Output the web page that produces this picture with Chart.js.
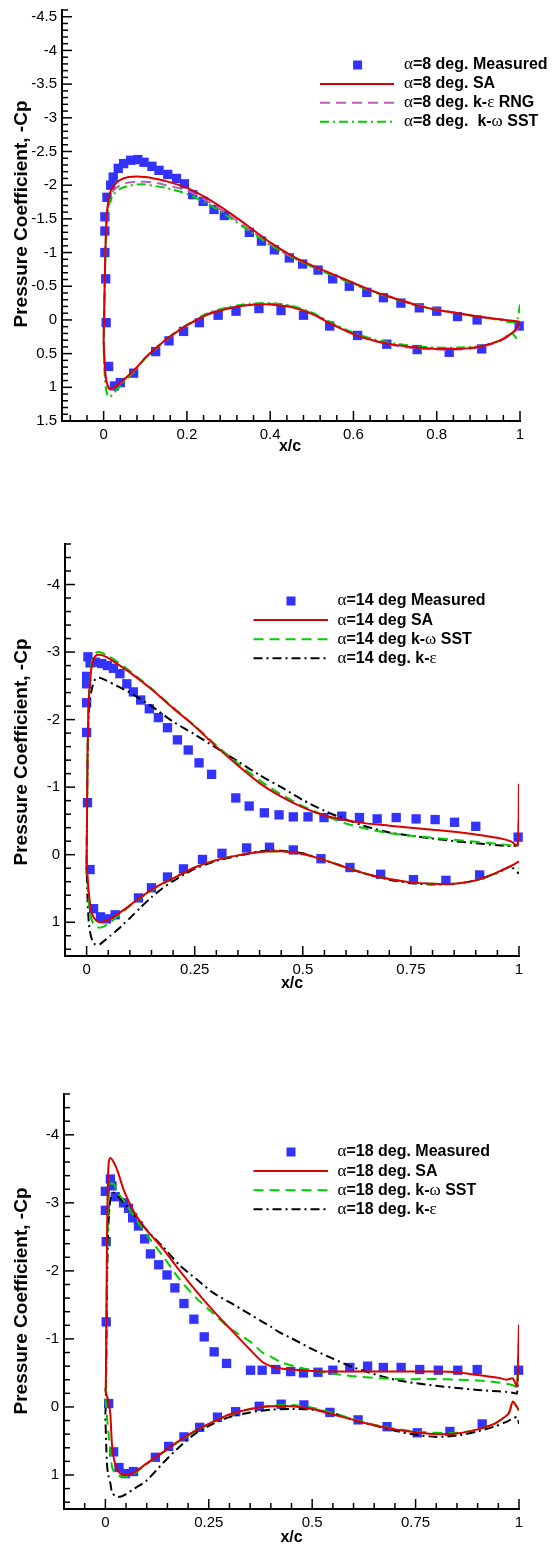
<!DOCTYPE html>
<html>
<head>
<meta charset="utf-8">
<title>Pressure coefficient, alpha = 8, 14, 18 deg</title>
<script src="https://cdn.jsdelivr.net/npm/chart.js@4.4.1/dist/chart.umd.min.js"></script>
<style>
  html, body { margin: 0; padding: 0; background: #fff; }
  #page { position: relative; width: 553px; height: 1546px; }
  canvas { position: absolute; left: 0; }
</style>
</head>
<body>
<div id="page">
  <canvas id="cp8" width="553" height="470" style="top:0px"></canvas>
  <canvas id="cp14" width="553" height="480" style="top:520px"></canvas>
  <canvas id="cp18" width="553" height="476" style="top:1070px"></canvas>
</div>
<script>
/* ---------- alpha = 8 deg ---------- */
const m8X  = [0.003, 0.003, 0.003, 0.005, 0.006, 0.008, 0.017, 0.023, 0.035, 0.048, 0.065, 0.082, 0.097, 0.116, 0.133, 0.154, 0.175, 0.194, 0.214, 0.239, 0.265, 0.29, 0.35, 0.379, 0.41, 0.446, 0.478, 0.515, 0.55, 0.59, 0.632, 0.672, 0.714, 0.758, 0.80, 0.85, 0.897, 0.998,
              0.012, 0.026, 0.04, 0.072, 0.125, 0.157, 0.192, 0.23, 0.275, 0.318, 0.373, 0.426, 0.48, 0.543, 0.61, 0.68, 0.753, 0.83, 0.908];
const m8Cp = [-1.32, -1.53, -1.00, -0.61, 0.04, -1.82, -2.00, -2.12, -2.25, -2.32, -2.37, -2.38, -2.34, -2.28, -2.22, -2.16, -2.10, -2.02, -1.86, -1.76, -1.64, -1.55, -1.30, -1.17, -1.04, -0.92, -0.83, -0.74, -0.61, -0.50, -0.41, -0.33, -0.25, -0.18, -0.13, -0.05, 0.00, 0.09,
              0.69, 0.98, 0.93, 0.79, 0.47, 0.31, 0.17, 0.04, -0.07, -0.13, -0.17, -0.14, -0.07, 0.09, 0.23, 0.36, 0.44, 0.48, 0.43];

const up8X  = [1.0, 0.99, 0.95, 0.9, 0.85, 0.8, 0.75, 0.7, 0.65, 0.6, 0.55, 0.5, 0.45, 0.4, 0.35, 0.3, 0.25, 0.2, 0.15, 0.12, 0.1, 0.08, 0.06, 0.04, 0.025, 0.015, 0.008, 0.005, 0.003, 0.0015, 0];
const sa8Up  = [0.03, 0.02, -0.01, -0.05, -0.10, -0.15, -0.22, -0.32, -0.42, -0.55, -0.68, -0.81, -0.96, -1.15, -1.38, -1.60, -1.80, -1.96, -2.06, -2.10, -2.12, -2.13, -2.12, -2.08, -2.00, -1.88, -1.60, -1.20, -0.70, -0.20, 0.30];
const rng8Up = [0.03, 0.02, -0.01, -0.05, -0.10, -0.16, -0.23, -0.32, -0.42, -0.54, -0.67, -0.80, -0.94, -1.12, -1.34, -1.56, -1.76, -1.92, -2.00, -2.04, -2.05, -2.05, -2.04, -2.00, -1.93, -1.82, -1.55, -1.15, -0.65, -0.15, 0.35];
const sst8Up = [-0.23, 0.03, 0.00, -0.05, -0.10, -0.15, -0.22, -0.31, -0.41, -0.53, -0.66, -0.79, -0.94, -1.11, -1.32, -1.53, -1.72, -1.87, -1.96, -1.99, -2.01, -2.01, -1.99, -1.95, -1.87, -1.75, -1.50, -1.10, -0.60, -0.10, 0.40];

const lo8X  = [0, 0.002, 0.005, 0.01, 0.015, 0.025, 0.04, 0.06, 0.08, 0.1, 0.125, 0.15, 0.175, 0.2, 0.25, 0.3, 0.35, 0.4, 0.45, 0.5, 0.55, 0.6, 0.65, 0.7, 0.75, 0.8, 0.85, 0.9, 0.95, 0.98, 0.995, 1.0];
const sa8Lo  = [0.30, 0.60, 0.85, 0.98, 1.02, 1.00, 0.93, 0.82, 0.70, 0.56, 0.42, 0.29, 0.18, 0.08, -0.08, -0.17, -0.22, -0.23, -0.19, -0.09, 0.07, 0.21, 0.31, 0.37, 0.41, 0.43, 0.43, 0.40, 0.31, 0.20, 0.10, 0.03];
const rng8Lo = [0.32, 0.62, 0.87, 1.00, 1.03, 1.01, 0.94, 0.83, 0.71, 0.57, 0.43, 0.30, 0.18, 0.08, -0.09, -0.18, -0.23, -0.24, -0.20, -0.10, 0.06, 0.21, 0.31, 0.38, 0.42, 0.44, 0.44, 0.41, 0.32, 0.21, 0.12, 0.05];
const sst8Lo = [0.40, 0.75, 1.00, 1.13, 1.14, 1.08, 0.98, 0.85, 0.72, 0.57, 0.42, 0.29, 0.17, 0.07, -0.10, -0.19, -0.24, -0.25, -0.21, -0.11, 0.05, 0.19, 0.29, 0.35, 0.39, 0.41, 0.41, 0.39, 0.31, 0.20, 0.30, 0.32];

/* ---------- alpha = 14 deg ---------- */
const m14X  = [0.0, 0.0, 0.0, 0.0, 0.002, 0.008, 0.003, 0.008, 0.02, 0.035, 0.048, 0.062, 0.077, 0.093, 0.108, 0.125, 0.145, 0.166, 0.187, 0.21, 0.235, 0.26, 0.289, 0.345, 0.376, 0.411, 0.445, 0.478, 0.512, 0.549, 0.59, 0.631, 0.672, 0.716, 0.762, 0.806, 0.851, 0.90, 0.998,
               0.016, 0.032, 0.046, 0.066, 0.12, 0.15, 0.187, 0.224, 0.268, 0.313, 0.37, 0.423, 0.478, 0.542, 0.609, 0.68, 0.756, 0.831, 0.909];
const m14Cp = [-2.64, -2.53, -2.25, -1.81, -0.77, 0.22, -2.93, -2.84, -2.85, -2.83, -2.80, -2.76, -2.68, -2.53, -2.41, -2.29, -2.16, -2.03, -1.88, -1.70, -1.55, -1.36, -1.19, -0.84, -0.72, -0.62, -0.59, -0.56, -0.56, -0.55, -0.57, -0.55, -0.53, -0.55, -0.53, -0.52, -0.48, -0.42, -0.26,
               0.80, 0.92, 0.95, 0.89, 0.64, 0.49, 0.33, 0.21, 0.07, -0.02, -0.10, -0.11, -0.07, 0.06, 0.19, 0.29, 0.37, 0.38, 0.30];

const up14X  = [1.0, 0.997, 0.98, 0.95, 0.9, 0.85, 0.8, 0.75, 0.7, 0.65, 0.6, 0.55, 0.5, 0.45, 0.4, 0.35, 0.3, 0.25, 0.2, 0.15, 0.1, 0.07, 0.045, 0.03, 0.02, 0.012, 0.007, 0.004, 0.002, 0.001, 0];
const sa14Up  = [-1.05, -0.14, -0.20, -0.25, -0.30, -0.34, -0.37, -0.40, -0.43, -0.46, -0.51, -0.58, -0.70, -0.86, -1.06, -1.32, -1.60, -1.90, -2.17, -2.45, -2.70, -2.83, -2.93, -2.96, -2.94, -2.80, -2.50, -2.10, -1.40, -0.60, 0.10];
const sst14Up = [-0.53, -0.15, -0.14, -0.16, -0.19, -0.22, -0.25, -0.28, -0.32, -0.38, -0.46, -0.58, -0.72, -0.89, -1.10, -1.35, -1.62, -1.91, -2.18, -2.46, -2.72, -2.86, -2.96, -3.00, -2.98, -2.86, -2.55, -2.12, -1.40, -0.55, 0.15];
const ke14Up  = [-0.50, -0.15, -0.13, -0.14, -0.17, -0.20, -0.24, -0.28, -0.33, -0.41, -0.52, -0.65, -0.81, -1.00, -1.18, -1.38, -1.58, -1.78, -1.97, -2.20, -2.40, -2.50, -2.58, -2.62, -2.60, -2.45, -2.25, -1.95, -1.30, -0.60, 0.15];

const lo14X  = [0, 0.002, 0.005, 0.009, 0.014, 0.02, 0.03, 0.04, 0.055, 0.07, 0.085, 0.1, 0.125, 0.15, 0.175, 0.2, 0.25, 0.3, 0.35, 0.4, 0.45, 0.5, 0.55, 0.6, 0.65, 0.7, 0.75, 0.8, 0.85, 0.9, 0.95, 0.98, 1.0];
const sa14Lo  = [0.10, 0.30, 0.55, 0.78, 0.90, 0.96, 1.00, 0.99, 0.95, 0.89, 0.82, 0.75, 0.63, 0.52, 0.43, 0.35, 0.19, 0.08, 0.01, -0.04, -0.05, -0.01, 0.08, 0.19, 0.29, 0.36, 0.41, 0.43, 0.43, 0.38, 0.26, 0.17, 0.10];
const sst14Lo = [0.15, 0.40, 0.70, 0.90, 1.00, 1.06, 1.08, 1.06, 1.00, 0.92, 0.84, 0.76, 0.64, 0.53, 0.43, 0.35, 0.19, 0.08, 0.01, -0.04, -0.05, -0.01, 0.08, 0.19, 0.29, 0.36, 0.41, 0.43, 0.43, 0.38, 0.27, 0.18, 0.20];
const ke14Lo  = [0.18, 0.63, 1.00, 1.18, 1.28, 1.33, 1.33, 1.28, 1.20, 1.12, 1.03, 0.94, 0.78, 0.63, 0.50, 0.39, 0.21, 0.09, 0.02, -0.05, -0.06, -0.02, 0.08, 0.19, 0.29, 0.37, 0.42, 0.44, 0.43, 0.38, 0.27, 0.18, 0.28];

/* ---------- alpha = 18 deg ---------- */
const m18X  = [0.0, 0.0, 0.002, 0.002, 0.012, 0.016, 0.024, 0.044, 0.056, 0.066, 0.08, 0.095, 0.109, 0.129, 0.149, 0.168, 0.19, 0.214, 0.239, 0.263, 0.293, 0.351, 0.379, 0.412, 0.448, 0.479, 0.514, 0.55, 0.591, 0.634, 0.672, 0.715, 0.76, 0.805, 0.852, 0.899, 0.999,
               0.008, 0.02, 0.033, 0.048, 0.068, 0.121, 0.153, 0.19, 0.228, 0.271, 0.315, 0.372, 0.425, 0.48, 0.543, 0.611, 0.681, 0.754, 0.833, 0.911];
const m18Cp = [-3.17, -2.89, -2.43, -1.25, -3.35, -3.25, -3.09, -3.00, -2.92, -2.78, -2.66, -2.47, -2.25, -2.09, -1.94, -1.75, -1.52, -1.29, -1.03, -0.81, -0.64, -0.54, -0.54, -0.55, -0.52, -0.50, -0.51, -0.54, -0.58, -0.60, -0.58, -0.58, -0.55, -0.54, -0.54, -0.55, -0.54,
               -0.05, 0.66, 0.89, 0.98, 0.95, 0.74, 0.58, 0.44, 0.30, 0.15, 0.07, -0.01, -0.04, -0.03, 0.08, 0.19, 0.29, 0.38, 0.36, 0.25];

const up18X  = [1.0, 0.995, 0.985, 0.97, 0.95, 0.9, 0.85, 0.8, 0.7, 0.6, 0.55, 0.5, 0.45, 0.42, 0.4, 0.38, 0.35, 0.3, 0.26, 0.22, 0.18, 0.14, 0.1, 0.07, 0.045, 0.03, 0.02, 0.012, 0.008, 0.006, 0.004, 0.003, 0.002, 0.001];
const sa18Up  = [-1.21, -0.30, -0.42, -0.40, -0.43, -0.47, -0.51, -0.52, -0.52, -0.52, -0.52, -0.53, -0.55, -0.57, -0.60, -0.66, -0.84, -1.16, -1.42, -1.70, -2.00, -2.32, -2.60, -2.86, -3.18, -3.46, -3.60, -3.66, -3.58, -3.30, -2.50, -1.70, -0.90, -0.30];
const sst18Up = [-0.99, -0.30, -0.32, -0.34, -0.36, -0.39, -0.40, -0.41, -0.41, -0.45, -0.49, -0.54, -0.61, -0.67, -0.74, -0.80, -0.96, -1.16, -1.38, -1.60, -1.87, -2.21, -2.53, -2.80, -3.03, -3.15, -3.28, -3.28, -3.05, -2.70, -2.00, -1.40, -0.80, -0.20];
const ke18Up  = [-0.80, -0.20, -0.21, -0.22, -0.23, -0.25, -0.28, -0.31, -0.40, -0.58, -0.71, -0.85, -1.01, -1.10, -1.18, -1.25, -1.36, -1.54, -1.68, -1.88, -2.08, -2.35, -2.60, -2.82, -3.00, -3.10, -3.15, -3.05, -2.75, -2.40, -1.80, -1.20, -0.60, 0.00];

const lo18X  = [0, 0.002, 0.004, 0.007, 0.012, 0.016, 0.024, 0.036, 0.05, 0.07, 0.1, 0.14, 0.18, 0.22, 0.26, 0.3, 0.35, 0.4, 0.45, 0.5, 0.55, 0.6, 0.65, 0.7, 0.75, 0.8, 0.85, 0.9, 0.94, 0.965, 0.976, 0.985, 0.995, 1.0];
const sa18Lo  = [-0.25, -0.20, -0.15, -0.10, 0.10, 0.55, 0.85, 0.98, 1.00, 0.96, 0.83, 0.66, 0.49, 0.34, 0.22, 0.11, 0.03, -0.01, -0.01, 0.03, 0.11, 0.19, 0.27, 0.33, 0.37, 0.40, 0.39, 0.33, 0.25, 0.15, 0.09, -0.08, 0.00, 0.05];
const sst18Lo = [-0.15, 0.00, 0.15, 0.35, 0.65, 0.88, 0.98, 1.02, 1.03, 0.98, 0.84, 0.67, 0.50, 0.35, 0.22, 0.12, 0.03, -0.02, -0.03, 0.01, 0.09, 0.18, 0.26, 0.32, 0.36, 0.38, 0.38, 0.33, 0.25, 0.15, 0.08, -0.08, 0.00, 0.05];
const ke18Lo  = [0.10, 0.55, 0.85, 1.00, 1.12, 1.25, 1.31, 1.32, 1.28, 1.20, 1.08, 0.82, 0.58, 0.38, 0.25, 0.15, 0.08, 0.04, 0.03, 0.04, 0.09, 0.19, 0.27, 0.35, 0.41, 0.44, 0.42, 0.36, 0.29, 0.23, 0.20, 0.17, 0.15, 0.25];

/* ---------- tick labels ---------- */
const ticksX8   = [0, 0.2, 0.4, 0.6, 0.8, 1];
const ticksY8   = [-4.5, -4, -3.5, -3, -2.5, -2, -1.5, -1, -0.5, 0, 0.5, 1, 1.5];
const ticksXq   = [0, 0.25, 0.5, 0.75, 1];
const ticksYint = [-4, -3, -2, -1, 0, 1];

const BLUE = '#3333ff', RED = '#dd0000', PURPLE = '#b85fb8', GREEN = '#00cc00', BLACK = '#000';
const FONT = '"Liberation Sans", Arial, sans-serif';
const DASH = [10, 6], DASHDOT = [9, 4, 2, 4];

const pairs = (xs, ys) => xs.map((x, i) => ({ x, y: ys[i] }));
// closed surface: upper from TE to LE, then lower from LE back to TE
const surface = (ux, uy, lx, ly) => pairs(ux, uy).concat(pairs(lx, ly));

function measured(label, xs, ys) {
  return { label, data: pairs(xs, ys), showLine: false, pointStyle: 'rect', pointRadius: 6.6, pointHoverRadius: 6.6,
           backgroundColor: BLUE, borderColor: BLUE, borderWidth: 0, order: 10, clip: false };
}
function curve(label, data, color, dash, order) {
  return { label, data, showLine: true, pointRadius: 0, borderColor: color, backgroundColor: color,
           borderWidth: 2, borderDash: dash, tension: 0.25, order };
}

function minorValues(min, max, step, majors) {
  const out = [];
  for (let k = Math.ceil(min / step - 1e-9); k * step <= max + 1e-9; k++) {
    const v = +(k * step).toFixed(6);
    if (!majors.some(m => Math.abs(m - v) < 1e-6)) out.push(v);
  }
  return out;
}

// draws text, Greek letters in a plain serif face like the original's symbol font
function drawMixed(ctx, text, x, y, font) {
  let cx = x;
  for (const ch of text) {
    ctx.font = /[\u0370-\u03ff]/.test(ch) ? '17px "Liberation Serif", serif' : font;
    ctx.fillText(ch, cx, y);
    cx += ctx.measureText(ch).width;
  }
}

// inward ticks, axis titles and the legend box
const frame = {
  id: 'frame',
  afterDraw(chart, args, o) {
    const { ctx, chartArea: a } = chart;
    const sx = chart.scales.x, sy = chart.scales.y;
    ctx.save();
    ctx.strokeStyle = '#000';
    ctx.lineWidth = 1.5;
    const mark = (scale, vals, len, horiz) => vals.forEach(v => {
      const p = scale.getPixelForValue(v);
      ctx.beginPath();
      if (horiz) { ctx.moveTo(p, a.bottom); ctx.lineTo(p, a.bottom - len); }
      else { ctx.moveTo(a.left, p); ctx.lineTo(a.left + len, p); }
      ctx.stroke();
    });
    mark(sx, o.xMajor, 10, true);
    mark(sx, minorValues(sx.min, sx.max, o.xMinor, o.xMajor), 6, true);
    mark(sy, o.yMajor, 10, false);
    mark(sy, minorValues(sy.min, sy.max, o.yMinor, o.yMajor), 6, false);

    ctx.fillStyle = '#000';
    ctx.textAlign = 'center';
    ctx.textBaseline = 'middle';
    ctx.font = 'bold 16px ' + FONT;
    ctx.fillText('x/c', o.xTitle[0], o.xTitle[1]);
    ctx.save();
    ctx.translate(o.yTitle[0], o.yTitle[1]);
    ctx.rotate(-Math.PI / 2);
    ctx.font = 'bold 19px ' + FONT;
    ctx.fillText('Pressure Coefficient, -Cp', 0, 0);
    ctx.restore();

    const L = o.legend;
    ctx.textAlign = 'left';
    chart.data.datasets.forEach((ds, i) => {
      const y = L.y0 + i * L.dy;
      if (ds.showLine === false) {
        ctx.fillStyle = ds.backgroundColor;
        ctx.fillRect(L.marker - 4.5, y - 4.5, 9, 9);
      } else {
        ctx.strokeStyle = ds.borderColor;
        ctx.lineWidth = 2;
        ctx.setLineDash(ds.borderDash || []);
        ctx.beginPath(); ctx.moveTo(L.x0, y); ctx.lineTo(L.x1, y); ctx.stroke();
        ctx.setLineDash([]);
      }
      ctx.fillStyle = '#000';
      drawMixed(ctx, ds.label, L.text, y, 'bold 16px ' + FONT);
    });
    ctx.restore();
  }
};

function panel(id, cfg) {
  const canvas = document.getElementById(id);
  const H = canvas.height, A = cfg.area;
  const tickFont = { family: FONT, size: 15 };
  return new Chart(canvas, {
    type: 'scatter',
    data: { datasets: cfg.datasets },
    options: {
      responsive: false, animation: false, events: [],
      layout: { padding: { top: A.top, right: 553 - A.right, left: 0, bottom: 0 } },
      plugins: {
        legend: { display: false }, tooltip: { enabled: false },
        frame: { xMajor: cfg.xTicks, yMajor: cfg.yTicks, xMinor: cfg.xMinor, yMinor: cfg.yMinor,
                 xTitle: cfg.xTitle, yTitle: cfg.yTitle, legend: cfg.legend }
      },
      scales: {
        x: {
          type: 'linear', min: cfg.xMin, max: 1,
          afterBuildTicks: s => { s.ticks = cfg.xTicks.map(v => ({ value: v })); },
          afterFit: s => { s.height = H - A.bottom; s.paddingLeft = 0; s.paddingRight = 0; },
          grid: { display: false, drawTicks: false },
          border: { display: true, color: '#000', width: 2 },
          ticks: { padding: 5, color: '#000', font: tickFont, maxRotation: 0, autoSkip: false, callback: v => String(v) }
        },
        y: {
          type: 'linear', reverse: true, min: -4.6, max: 1.5,
          afterBuildTicks: s => { s.ticks = cfg.yTicks.map(v => ({ value: v })); },
          afterFit: s => { s.width = A.left; s.paddingTop = 0; s.paddingBottom = 0; },
          grid: { display: false, drawTicks: false },
          border: { display: true, color: '#000', width: 2 },
          ticks: { padding: 5, color: '#000', font: tickFont, autoSkip: false, callback: v => String(v) }
        }
      }
    },
    plugins: [frame]
  });
}

panel('cp8', {
  area: { left: 62, right: 520, top: 10, bottom: 421 }, xMin: -0.1,
  xTicks: ticksX8, yTicks: ticksY8, xMinor: 0.04, yMinor: 0.1,
  xTitle: [290, 447], yTitle: [22, 214],
  legend: { marker: 357.6, x0: 320, x1: 394, text: 404, y0: 65, dy: 18.9 },
  datasets: [
    measured('α=8 deg. Measured', m8X, m8Cp),
    curve('α=8 deg. SA', surface(up8X, sa8Up, lo8X, sa8Lo), RED, [], 1),
    curve('α=8 deg. k-ε RNG', surface(up8X, rng8Up, lo8X, rng8Lo), PURPLE, DASH, 3),
    curve('α=8 deg.  k-ω SST', surface(up8X, sst8Up, lo8X, sst8Lo), GREEN, DASHDOT, 2)
  ]
});

panel('cp14', {
  area: { left: 65, right: 519, top: 24, bottom: 436 }, xMin: -0.05,
  xTicks: ticksXq, yTicks: ticksYint, xMinor: 0.05, yMinor: 0.2,
  xTitle: [292, 464], yTitle: [22, 232],
  legend: { marker: 291, x0: 253.5, x1: 328, text: 337.5, y0: 81, dy: 19.1 },
  datasets: [
    measured('α=14 deg Measured', m14X, m14Cp),
    curve('α=14 deg SA', surface(up14X, sa14Up, lo14X, sa14Lo), RED, [], 1),
    curve('α=14 deg k-ω SST', surface(up14X, sst14Up, lo14X, sst14Lo), GREEN, DASH, 2),
    curve('α=14 deg. k-ε', surface(up14X, ke14Up, lo14X, ke14Lo), BLACK, DASHDOT, 3)
  ]
});

panel('cp18', {
  area: { left: 64, right: 519, top: 24, bottom: 439 }, xMin: -0.1,
  xTicks: ticksXq, yTicks: ticksYint, xMinor: 0.05, yMinor: 0.2,
  xTitle: [291.5, 467.5], yTitle: [22, 231],
  legend: { marker: 291, x0: 253.5, x1: 328, text: 337.5, y0: 82, dy: 19.1 },
  datasets: [
    measured('α=18 deg. Measured', m18X, m18Cp),
    curve('α=18 deg. SA', surface(up18X, sa18Up, lo18X, sa18Lo), RED, [], 1),
    curve('α=18 deg. k-ω SST', surface(up18X, sst18Up, lo18X, sst18Lo), GREEN, DASH, 2),
    curve('α=18 deg. k-ε', surface(up18X, ke18Up, lo18X, ke18Lo), BLACK, DASHDOT, 3)
  ]
});
</script>
</body>
</html>
